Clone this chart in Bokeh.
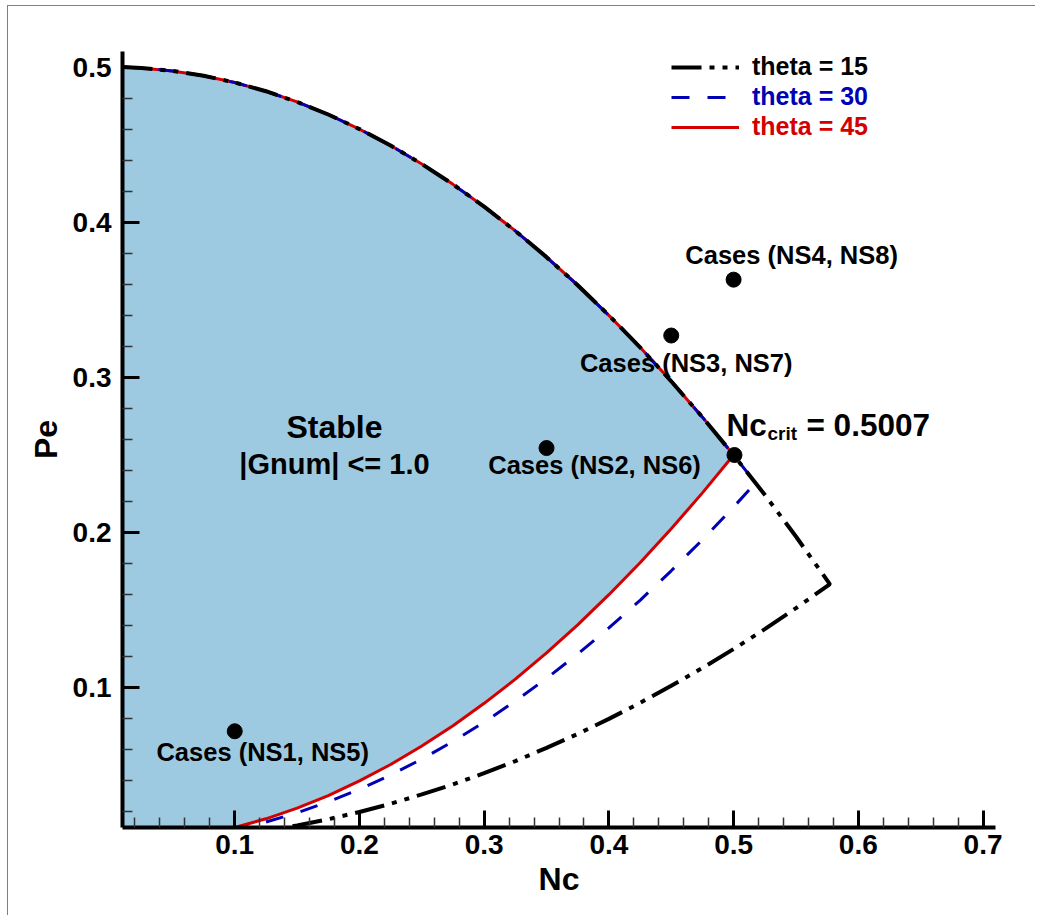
from bokeh.plotting import figure
from bokeh.models import Range1d, FixedTicker, Legend, LegendItem, Label
from bokeh.embed import file_html
from bokeh.resources import INLINE

FONT = "Liberation Sans"

# ---- data ----
# upper stability boundary (shared by all theta)
upper_nc = [0.010, 0.025, 0.050, 0.075, 0.100, 0.125, 0.150, 0.175, 0.200, 0.225,
            0.250, 0.275, 0.300, 0.325, 0.350, 0.375, 0.400, 0.425, 0.450, 0.475, 0.500]
upper_pe = [0.5000, 0.4994, 0.4975, 0.4944, 0.4900, 0.4844, 0.4775, 0.4694, 0.4600, 0.4494,
            0.4375, 0.4244, 0.4100, 0.3944, 0.3775, 0.3594, 0.3400, 0.3194, 0.2975, 0.2744, 0.2500]

# continuation of the upper boundary past Nc = 0.5
ext30_nc = [0.5176]
ext30_pe = [0.2320]
ext15_nc = [0.525, 0.550, 0.577]
ext15_pe = [0.2244, 0.1975, 0.1670]

# lower boundaries
lower45_nc = [0.100, 0.125, 0.150, 0.175, 0.200, 0.225, 0.250, 0.275, 0.300, 0.325,
              0.350, 0.375, 0.400, 0.425, 0.450, 0.475, 0.500]
lower45_pe = [0.0100, 0.0156, 0.0225, 0.0306, 0.0400, 0.0506, 0.0625, 0.0756, 0.0900, 0.1056,
              0.1225, 0.1406, 0.1600, 0.1806, 0.2025, 0.2256, 0.2500]

lower30_nc = [0.1075, 0.125, 0.150, 0.175, 0.200, 0.225, 0.250, 0.275, 0.300, 0.325,
              0.350, 0.375, 0.400, 0.425, 0.450, 0.475, 0.500, 0.5176]
lower30_pe = [0.0100, 0.0135, 0.0195, 0.0265, 0.0346, 0.0438, 0.0541, 0.0655, 0.0779, 0.0915,
              0.1061, 0.1218, 0.1386, 0.1564, 0.1754, 0.1954, 0.2165, 0.2320]

lower15_nc = [0.1414, 0.150, 0.175, 0.200, 0.225, 0.250, 0.275, 0.300, 0.325, 0.350,
              0.375, 0.400, 0.425, 0.450, 0.475, 0.500, 0.525, 0.550, 0.577]
lower15_pe = [0.0100, 0.0113, 0.0153, 0.0200, 0.0253, 0.0313, 0.0378, 0.0450, 0.0528, 0.0613,
              0.0703, 0.0800, 0.0903, 0.1013, 0.1128, 0.1250, 0.1378, 0.1513, 0.1667]

# simulation cases
case_nc = [0.10, 0.35, 0.45, 0.50]
case_pe = [0.072, 0.2545, 0.327, 0.363]
case_text = ["Cases (NS1, NS5)", "Cases (NS2, NS6)", "Cases (NS3, NS7)", "Cases (NS4, NS8)"]
case_dx = [28, 48, 15, 58]
case_dy = [-21, -17, -27, 25]

crit_nc = [0.5007]
crit_pe = [0.25]

x_ticks = [0.1, 0.2, 0.3, 0.4, 0.5, 0.6, 0.7]
y_ticks = [0.1, 0.2, 0.3, 0.4, 0.5]

series_labels = ["theta = 15", "theta = 30", "theta = 45"]
series_colors = ["#000000", "#0000b4", "#d40000"]

# ---- figure ----
p = figure(width=1028, height=910, output_backend="svg", toolbar_location=None,
           x_range=Range1d(0.01, 0.71), y_range=Range1d(0.01, 0.51),
           min_border_left=114, min_border_right=41, min_border_top=45, min_border_bottom=89)
p.outline_line_color = None
p.grid.visible = False
p.background_fill_color = "white"
p.border_fill_color = "white"
p.styles = {"border-left": "1px solid #808080", "border-top": "1px solid #808080",
            "margin-left": "7px", "margin-top": "5px"}

# stable region fill
fill_x = upper_nc + lower45_nc[::-1] + [0.01]
fill_y = upper_pe + lower45_pe[::-1] + [0.01]
p.patch(fill_x, fill_y, fill_color="#9ecae1", line_color=None)

x45 = upper_nc + lower45_nc[::-1]
y45 = upper_pe + lower45_pe[::-1]
x30 = upper_nc + ext30_nc + lower30_nc[::-1]
y30 = upper_pe + ext30_pe + lower30_pe[::-1]
x15 = upper_nc + ext15_nc + lower15_nc[::-1]
y15 = upper_pe + ext15_pe + lower15_pe[::-1]

r45 = p.line(x45, y45, line_color=series_colors[2], line_width=3)
r30 = p.line(x30, y30, line_color=series_colors[1], line_width=3, line_dash="18 18")
r15 = p.line(x15, y15, line_color=series_colors[0], line_width=4,
             line_dash="30 8 5 8 5 8")

p.scatter(case_nc + crit_nc, case_pe + crit_pe, size=15, color="black")

for nc, pe, t, dx, dy in zip(case_nc, case_pe, case_text, case_dx, case_dy):
    p.add_layout(Label(x=nc, y=pe, text=t, x_offset=dx, y_offset=dy,
                       text_align="center", text_baseline="middle",
                       text_font=FONT, text_font_style="bold", text_font_size="25.5px",
                       text_color="black"))

# critical point label
p.add_layout(Label(x=crit_nc[0], y=crit_pe[0], text="Nc", x_offset=-8, y_offset=30,
                   text_align="left", text_baseline="alphabetic", text_color="black",
                   text_font=FONT, text_font_style="bold", text_font_size="31.5px"))
p.add_layout(Label(x=crit_nc[0], y=crit_pe[0], text="crit", x_offset=33, y_offset=22,
                   text_align="left", text_baseline="alphabetic", text_color="black",
                   text_font=FONT, text_font_style="bold", text_font_size="19px"))
p.add_layout(Label(x=crit_nc[0], y=crit_pe[0], text="= 0.5007", x_offset=72, y_offset=30,
                   text_align="left", text_baseline="alphabetic", text_color="black",
                   text_font=FONT, text_font_style="bold", text_font_size="31.5px"))

# stable region caption
p.add_layout(Label(x=0.18, y=0.268, text="Stable", text_align="center",
                   text_baseline="middle", text_font=FONT, text_font_style="bold",
                   text_font_size="32px", text_color="black"))
p.add_layout(Label(x=0.18, y=0.244, text="|Gnum| <= 1.0", text_align="center",
                   text_baseline="middle", text_font=FONT, text_font_style="bold",
                   text_font_size="29px", text_color="black"))

# legends (one per series so each label keeps its colour)
for i, (r, lab, col) in enumerate(zip([r15, r30, r45], series_labels, series_colors)):
    leg = Legend(items=[LegendItem(label=lab, renderers=[r])],
                 location=(549, 746 - 30 * i),
                 glyph_width=68, glyph_height=20, label_standoff=13,
                 label_text_font=FONT, label_text_font_style="bold",
                 label_text_font_size="25px", label_text_color=col,
                 padding=0, margin=0, spacing=0,
                 border_line_color=None, background_fill_alpha=0)
    p.add_layout(leg)

# axes
minor = [round(0.02 * i, 2) for i in range(1, 36) if i % 5 != 0]
p.xaxis.ticker = FixedTicker(ticks=x_ticks, minor_ticks=minor)
p.yaxis.ticker = FixedTicker(ticks=y_ticks, minor_ticks=[m for m in minor if m < 0.51])
for ax in (p.xaxis[0], p.yaxis[0]):
    ax.axis_line_width = 4
    ax.axis_line_color = "black"
    ax.major_tick_in = 17
    ax.major_tick_out = 0
    ax.minor_tick_in = 10
    ax.minor_tick_out = 0
    ax.major_tick_line_width = 3
    ax.minor_tick_line_width = 1.5
    ax.minor_tick_line_color = "#333333"
    ax.major_label_text_font = FONT
    ax.major_label_text_font_style = "bold"
    ax.major_label_text_font_size = "28px"
    ax.major_label_text_color = "black"
    ax.axis_label_text_font = FONT
    ax.axis_label_text_font_style = "bold"
    ax.axis_label_text_font_size = "32px"
    ax.axis_label_text_color = "black"
p.xaxis.axis_label = "Nc"
p.yaxis.axis_label = "Pe"
p.xaxis.major_label_standoff = 7
p.yaxis.major_label_standoff = 11
p.xaxis.axis_label_standoff = 4
p.yaxis.axis_label_standoff = 6

open("out.html", "w").write(file_html(p, INLINE))
